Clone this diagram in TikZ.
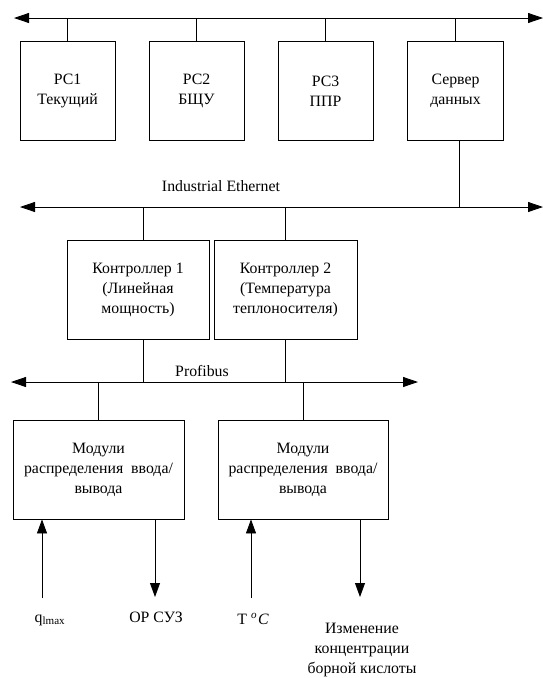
\documentclass[tikz,border=0pt]{standalone}
\usepackage{fontspec}
\setmainfont{Liberation Serif}
\usetikzlibrary{arrows.meta}
\begin{document}
\begin{tikzpicture}[x=1pt,y=-1pt,
  line width=0.8pt,
  every node/.style={font=\fontsize{15.8}{20}\selectfont},
  blk/.style={draw, inner sep=0pt, align=center},
  bus/.style={{Triangle[length=15pt,width=10pt]}-{Triangle[length=15pt,width=10pt]}},
  sig/.style={-{Triangle[length=14pt,width=10pt]}},
  lbl/.style={inner sep=0pt, align=center}]
\useasboundingbox (0,0) rectangle (543,678);

% top row
\node[blk, minimum width=95pt, minimum height=99pt] (pc1) at (67.5,91) {РС1\\Текущий};
\node[blk, minimum width=95pt, minimum height=99pt] (pc2) at (196.5,91) {РС2\\БЩУ};
\node[blk, minimum width=95pt, minimum height=99pt] (pc3) at (325.5,91) {РС3\\ППР};
\node[blk, minimum width=96pt, minimum height=99pt] (srv) at (455.5,91) {Сервер\\данных};

\coordinate (tl) at (14,18);
\coordinate (tr) at (543,18);
\draw[bus] (tl) -- (tr);
\foreach \n in {pc1,pc2,pc3,srv} \draw (\n.north) -- (\n.north |- tl);

% Ethernet
\coordinate (el) at (20,207);
\coordinate (er) at (543,207);
\draw[bus] (el) -- (er);
\coordinate (sv) at ([xshift=4pt]srv.south);
\draw (sv) -- (sv |- el);
\node[lbl] (eth) at (221,186) {Industrial Ethernet};

% controllers
\node[blk, minimum width=142pt, minimum height=99pt] (c1) at (138,289.5) {Контроллер 1\\(Линейная\\мощность)};
\node[blk, minimum width=143pt, minimum height=99pt] (c2) at (285.5,289.5) {Контроллер 2\\(Температура\\теплоносителя)};
\coordinate (c1t) at ([xshift=5pt]c1.north);
\coordinate (c1b) at ([xshift=5pt]c1.south);
\draw (c1t) -- (c1t |- el);
\draw (c2.north) -- (c2.north |- el);

% Profibus
\coordinate (pl) at (11,382);
\coordinate (pr) at (418,382);
\draw[bus] (pl) -- (pr);
\node[lbl] (pfb) at (202,371) {Profibus};
\draw (c1b) -- (c1b |- pl);
\draw (c2.south) -- (c2.south |- pl);

% modules
\node[blk, minimum width=171pt, minimum height=99pt] (m1) at (98.5,469.5) {Модули\\распределения\ \ ввода/\\вывода};
\node[blk, minimum width=170pt, minimum height=99pt] (m2) at (303,469.5) {Модули\\распределения\ \ ввода/\\вывода};
\draw (m1.north) -- (m1.north |- pl);
\draw (m2.north) -- (m2.north |- pl);

% signals
\coordinate (q) at (42,598);
\coordinate (or) at (155,597);
\coordinate (t) at (251,598);
\coordinate (b) at (360,597);
\draw[sig] (q) -- (q |- m1.south);
\draw[sig] (or |- m1.south) -- (or);
\draw[sig] (t) -- (t |- m2.south);
\draw[sig] (b |- m2.south) -- (b);

\node[lbl] (ql) at (50,620) {q\textsubscript{lmax}};
\node[lbl] (orl) at (156,617) {ОР СУЗ};
\node[lbl] (tl2) at (253,619) {Т \textsuperscript{\itshape o}\kern1pt{\itshape C}};
\node[lbl] (bl) at (362,650) {Изменение\\концентрации\\борной кислоты};
\end{tikzpicture}
\end{document}
